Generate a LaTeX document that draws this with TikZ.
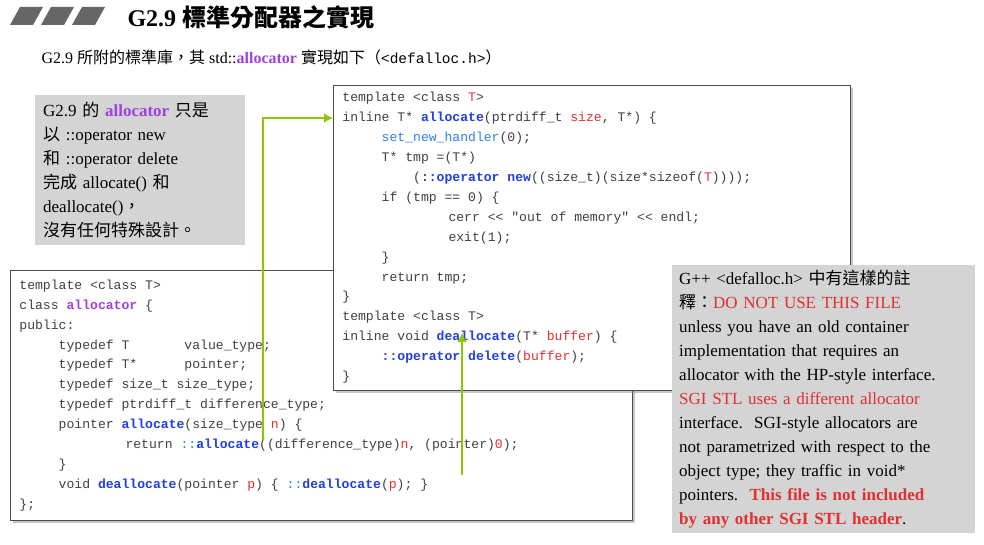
\documentclass[tikz,border=0pt]{standalone}
\usepackage{fontspec}
\setmainfont{Liberation Serif}
\setmonofont{Liberation Mono}
\newfontfamily\cjk{Noto Sans CJK TC}
\usepackage{xcolor}
\usetikzlibrary{arrows.meta, positioning, shadows}
\definecolor{kwblue}{HTML}{1F3FE0}
\definecolor{fnblue}{HTML}{2F7FE8}
\definecolor{prmred}{HTML}{E03030}
\definecolor{allocpurple}{HTML}{A040E0}
\definecolor{linkgreen}{HTML}{8CC800}
\newcommand{\kw}[1]{\textcolor{kwblue}{\textbf{#1}}}
\newcommand{\fn}[1]{\textcolor{fnblue}{#1}}
\newcommand{\prm}[1]{\textcolor{prmred}{#1}}
\newcommand{\ind}[1]{\hspace*{#1em}}
\newcommand{\codefont}{\ttfamily\fontsize{13.1}{19.9}\selectfont}
\newcommand{\cs}{\spaceskip=0.6em\relax}

\begin{document}
\begin{tikzpicture}[x=1pt,y=-1pt,
		codebox/.style={draw=black!70, fill=white, line width=0.8pt, anchor=north west,
				align=left, inner xsep=8pt, inner ysep=4pt,
				drop shadow={shadow xshift=3pt, shadow yshift=-3pt, fill=black!45},
				font=\codefont, text=black!75},
		notebox/.style={fill=black!17, anchor=north west, align=left, inner xsep=8pt, inner ysep=5pt,
				font=\fontsize{17}{24}\selectfont},
		link/.style={draw=linkgreen, line width=2.2pt, -{Latex[length=9pt,width=10pt]}}
	]

	\useasboundingbox (0,0) rectangle (984,545);

	% title
	\foreach \i in {0,1,2}
	\fill[black!60] (10+\i*31,25) -- (20+\i*31,7) -- (43+\i*31,7) -- (33+\i*31,25) -- cycle;
	\node[anchor=west, font=\fontsize{24}{28}\selectfont\bfseries] (title) at (124,17)
	{G2.9 {\cjk 標準分配器之實現}};
	\node[anchor=west, font=\fontsize{16}{20}\selectfont] (subtitle) at (38,57)
	{G2.9 {\cjk 所附的標準庫，其} std::\textcolor{allocpurple}{\textbf{allocator}} {\cjk 實現如下（}{\ttfamily\fontsize{14.5}{18}\selectfont<defalloc.h>}{\cjk ）}};

	% class allocator
	\node[codebox, minimum width=622pt, text width=604pt, minimum height=250pt] (cls) at (10,270)
	{\cs template <class T>\\
		class \textcolor{allocpurple}{\textbf{allocator}} \{\\
		public:\\
		\ind{3}typedef T\ind{4.2}value\_type;\\
		\ind{3}typedef T*\ind{3.6}pointer;\\
		\ind{3}typedef size\_t size\_type;\\
		\ind{3}typedef ptrdiff\_t difference\_type;\\
		\ind{3}pointer \kw{allocate}(size\_type \prm{n}) \{\\
		\ind{8.1}return \fn{::}\kw{allocate}((difference\_type)\prm{n}, (pointer)\prm{0});\\
		\ind{3}\}\\
		\ind{3}void \kw{deallocate}(pointer \prm{p}) \{ \fn{::}\kw{deallocate}(\prm{p}); \}\\
		\};};

	% ::allocate / ::deallocate
	\node[codebox, minimum width=517pt, text width=499pt, minimum height=305pt] (glb) at (333,85)
	{\cs template <class \prm{T}>\\
		inline T* \kw{allocate}(ptrdiff\_t \prm{size}, T*) \{\\
		\ind{3}\fn{set\_new\_handler}(0);\\
		\ind{3}T* tmp =(T*)\\
		\ind{5.4}(\kw{::operator new}((size\_t)(size*sizeof(\prm{T}))));\\
		\ind{3}if (tmp == 0) \{\\
		\ind{8.1}cerr << "out of memory" << endl;\\
		\ind{8.1}exit(1);\\
		\ind{3}\}\\
		\ind{3}return tmp;\\
		\}\\
		template <class T>\\
		inline void \kw{deallocate}(T* \prm{buffer}) \{\\
		\ind{3}\kw{::operator delete}(\prm{buffer});\\
		\}};

	\coordinate (allocsrc) at (263,440);
	\coordinate (allocbend) at (263,118);
	\coordinate (allocdst) at (333,118);
	\draw[link] (allocsrc) -- (allocbend) -- (allocdst);
	\coordinate (deallocsrc) at (462,475);
	\coordinate (deallocdst) at (462,333);
	\draw[link] (deallocsrc) -- (deallocdst);

	% notes
	\node[notebox, text width=194pt, minimum height=150pt] (why) at (35,95)
	{G2.9 {\cjk 的} \textcolor{allocpurple}{\textbf{allocator}} {\cjk 只是}\\
		{\cjk 以} ::operator new\\
		{\cjk 和} ::operator delete\\
		{\cjk 完成} allocate() {\cjk 和}\\
		deallocate(){\cjk ，}\\
		{\cjk 沒有任何特殊設計。}};

	\node[notebox, text width=289pt, minimum height=265pt, inner xsep=7pt] (note) at (672,265)
	{G++ <defalloc.h> {\cjk 中有這樣的註}\\
		{\cjk 釋：}\textcolor{prmred}{DO NOT USE THIS FILE}\\
		unless you have an old container\\
		implementation that requires an\\
		allocator with the HP-style interface.\\
		\textcolor{prmred}{SGI STL uses a different allocator}\\
		interface.\ \ SGI-style allocators are\\
		not parametrized with respect to the\\
		object type; they traffic in void*\\
		pointers.\ \ \textcolor{prmred}{\textbf{This file is not included}}\\
		\textcolor{prmred}{\textbf{by any other SGI STL header}}.};
\end{tikzpicture}
\end{document}
